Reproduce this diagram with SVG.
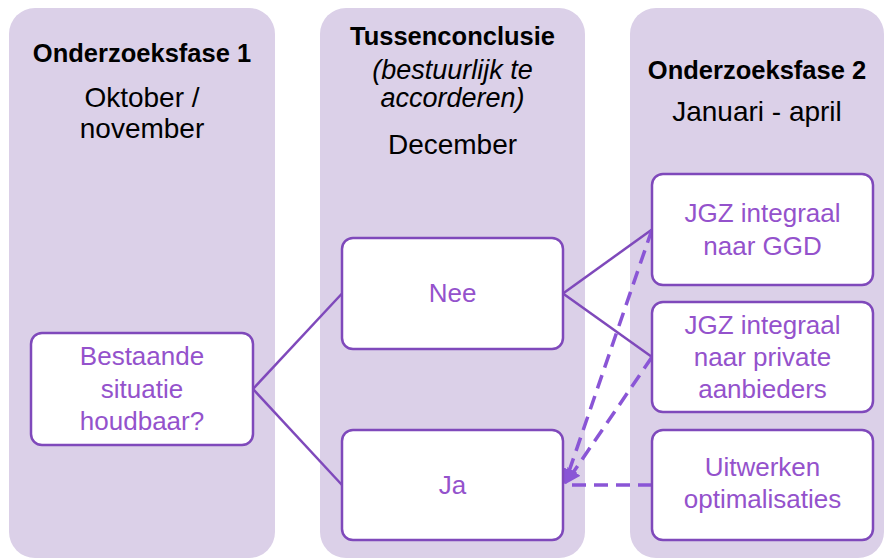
<svg xmlns="http://www.w3.org/2000/svg" width="885" height="558" viewBox="0 0 885 558">
<style>
.panel{fill:#dbd0e8}
.box{fill:#ffffff;stroke:#7f49bb;stroke-width:2.5}
.bt{font-family:"Liberation Sans",Arial,sans-serif;font-size:26px;fill:#9452cc;text-anchor:middle}
.h{font-family:"Liberation Sans",Arial,sans-serif;font-size:25.5px;font-weight:bold;fill:#000;text-anchor:middle}
.t{font-family:"Liberation Sans",Arial,sans-serif;font-size:28px;fill:#000;text-anchor:middle}
.it{font-style:italic;font-size:27px}
.solid{stroke:#7f49bb;stroke-width:2.5;fill:none}
.dash{stroke:#8a55d6;stroke-width:3.5;fill:none;stroke-dasharray:14 8}
</style>
<defs>
<marker id="arr" viewBox="0 0 10 10" refX="9" refY="5" markerWidth="4.5" markerHeight="4.5" orient="auto-start-reverse" markerUnits="strokeWidth">
<path d="M0,0 L10,5 L0,10 Z" fill="#8a55d6"/>
</marker>
</defs>
<g id="panel1">
<rect class="panel" x="9" y="8" width="266" height="550" rx="26"/>
<text class="h" x="142" y="62">Onderzoeksfase 1</text>
<text class="t" x="142" y="107">Oktober /</text>
<text class="t" x="142" y="138">november</text>
</g>
<g id="panel2">
<rect class="panel" x="320" y="8" width="265" height="550" rx="26"/>
<text class="h" x="452.5" y="45">Tussenconclusie</text>
<text class="t it" x="452.5" y="79">(bestuurlijk te</text>
<text class="t it" x="452.5" y="107">accorderen)</text>
<text class="t" x="452.5" y="154">December</text>
</g>
<g id="panel3">
<rect class="panel" x="630" y="8" width="254" height="550" rx="26"/>
<text class="h" x="757" y="79">Onderzoeksfase 2</text>
<text class="t" x="757" y="121">Januari - april</text>
</g>
<g id="connectors">
<line class="solid" x1="253" y1="389" x2="342" y2="293.5"/>
<line class="solid" x1="253" y1="389" x2="342" y2="485"/>
<line class="solid" x1="563" y1="293.5" x2="652" y2="229.5"/>
<line class="solid" x1="563" y1="293.5" x2="652" y2="357"/>
<line class="dash" x1="652" y1="229.5" x2="565" y2="483" marker-end="url(#arr)"/>
<line class="dash" x1="652" y1="357" x2="566" y2="483" marker-end="url(#arr)"/>
<line class="dash" x1="652" y1="485" x2="566" y2="485"/>
</g>
<g id="bestaande">
<rect class="box" x="31" y="333" width="222" height="112" rx="11"/>
<text class="bt" x="142" y="365">Bestaande</text>
<text class="bt" x="142" y="398">situatie</text>
<text class="bt" x="142" y="430">houdbaar?</text>
</g>
<g id="nee">
<rect class="box" x="342" y="238" width="221" height="111" rx="11"/>
<text class="bt" x="452.5" y="302">Nee</text>
</g>
<g id="ja">
<rect class="box" x="342" y="430" width="221" height="110" rx="11"/>
<text class="bt" x="452.5" y="494">Ja</text>
</g>
<g id="jgz-ggd">
<rect class="box" x="652" y="174" width="221" height="111" rx="11"/>
<text class="bt" x="762.5" y="222">JGZ integraal</text>
<text class="bt" x="762.5" y="255">naar GGD</text>
</g>
<g id="jgz-private">
<rect class="box" x="652" y="302" width="221" height="110" rx="11"/>
<text class="bt" x="762.5" y="334">JGZ integraal</text>
<text class="bt" x="762.5" y="366">naar private</text>
<text class="bt" x="762.5" y="398">aanbieders</text>
</g>
<g id="uitwerken">
<rect class="box" x="652" y="430" width="221" height="110" rx="11"/>
<text class="bt" x="762.5" y="476">Uitwerken</text>
<text class="bt" x="762.5" y="508">optimalisaties</text>
</g>
</svg>
